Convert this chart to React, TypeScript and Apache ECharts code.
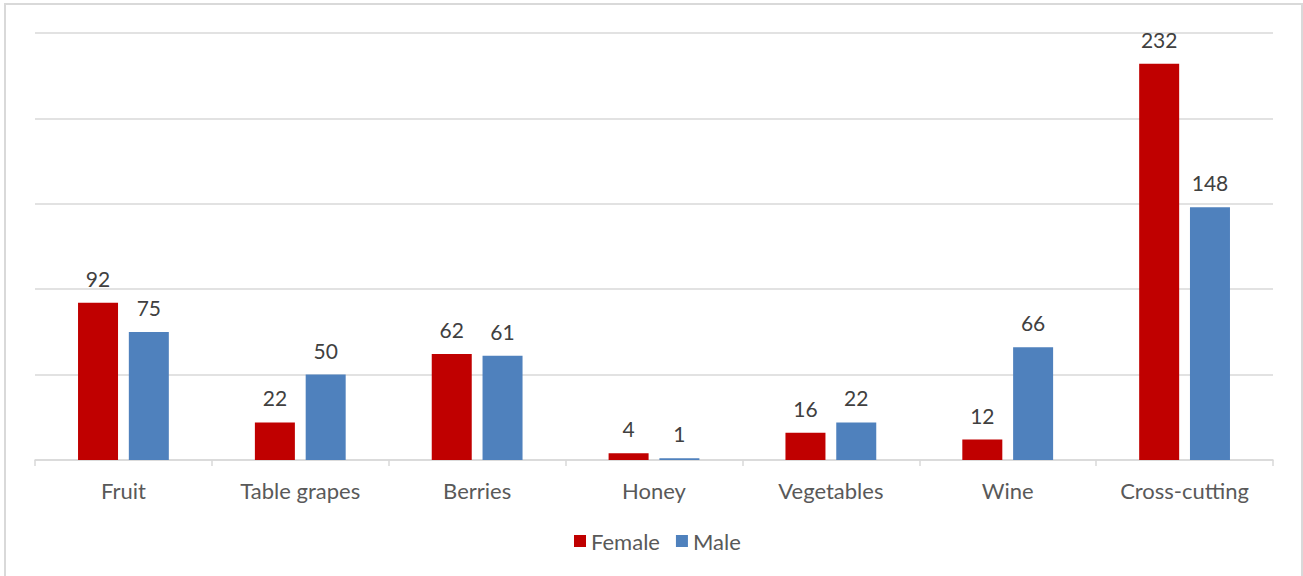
import React, { useEffect, useRef } from "react";
import * as echarts from "echarts";

const categories = ["Fruit", "Table grapes", "Berries", "Honey", "Vegetables", "Wine", "Cross-cutting"];
const female = [92, 22, 62, 4, 16, 12, 232];
const male = [75, 50, 61, 1, 22, 66, 148];

export default function App() {
  const ref = useRef<HTMLDivElement>(null);
  useEffect(() => {
    const chart = echarts.init(ref.current!, null, { renderer: "svg" });
    const font = "Lato, 'Open Sans', sans-serif";
    const label = {
      show: true,
      position: "top",
      distance: 14,
      color: "#404040",
      fontSize: 21,
      fontFamily: font,
    };
    chart.setOption({
      animation: false,
      textStyle: { fontFamily: font },
      graphic: [
        {
          type: "rect",
          shape: { x: 5, y: 4, width: 1297, height: 620 },
          style: { fill: "none", stroke: "#d9d9d9", lineWidth: 2 },
          silent: true,
        },
      ],
      grid: { left: 35, right: 30, top: 33, bottom: 116, containLabel: false },
      legend: {
        bottom: 19,
        left: 569,
        itemWidth: 12,
        itemHeight: 12,
        itemGap: 16,
        icon: "rect",
        textStyle: { color: "#595959", fontSize: 22, fontFamily: font },
        data: ["Female", "Male"],
      },
      xAxis: {
        type: "category",
        data: categories,
        axisLine: { lineStyle: { color: "#d9d9d9", width: 1.5 } },
        axisTick: { show: true, length: 6, lineStyle: { color: "#d9d9d9", width: 1.5 } },
        axisLabel: { color: "#595959", fontSize: 22, margin: 19, fontFamily: font },
      },
      yAxis: {
        type: "value",
        min: 0,
        max: 250,
        interval: 50,
        axisLabel: { show: false },
        axisLine: { show: false },
        axisTick: { show: false },
        splitLine: { lineStyle: { color: "#d9d9d9", width: 1.5 } },
      },
      series: [
        {
          name: "Female",
          type: "bar",
          data: female,
          barWidth: 40,
          barGap: "27%",
          itemStyle: { color: "#C00000" },
          label,
        },
        {
          name: "Male",
          type: "bar",
          data: male,
          barWidth: 40,
          itemStyle: { color: "#4F81BD" },
          label,
        },
      ],
    });
    return () => chart.dispose();
  }, []);
  return (
    <div
      ref={ref}
      style={{ position: "absolute", left: 0, top: 0, width: 1303, height: 576 }}
    />
  );
}
